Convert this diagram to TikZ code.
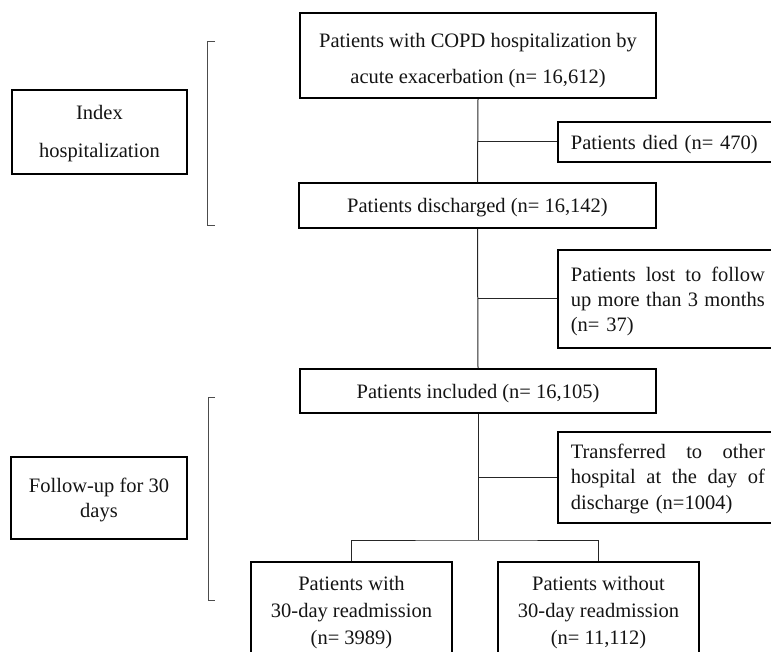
\documentclass[tikz,border=0pt]{standalone}
\usepackage{fontspec}
\setmainfont{Liberation Serif}
\newcommand\mytop[1]{\rule{0pt}{#1pt}}
\newcommand\mybot[1]{\rule[-#1pt]{0pt}{0pt}}
\newcommand\jline[1]{\makebox[194pt][l]{#1}}
\begin{document}
\begin{tikzpicture}[x=1pt,y=-1pt,
  box/.style={draw, line width=1.7pt, inner sep=0pt, align=center, text=black!92,
    font=\fontsize{20.5}{27}\selectfont},
  side/.style={draw, line width=1.7pt, anchor=west, inner xsep=13pt, inner ysep=0pt,
    text width=214pt, align=left, text=black!92, font=\fontsize{20.5}{25.5}\selectfont},
  conn/.style={line width=1pt, draw=black!85},
  brk/.style={line width=1pt, draw=black!70}]
\clip (0,0) rectangle (771,652);
% main column
\node[box, minimum width=356pt, minimum height=85pt, font=\fontsize{20.5}{36}\selectfont] (top) at (478,55.5)
  {\mytop{27}Patients with COPD hospitalization by\\acute exacerbation (n= 16,612)\mybot{6}};
\node[box, minimum width=357pt, minimum height=45pt] (disch) at (477.5,205.5)
  {\mytop{21}Patients discharged (n= 16,142)\mybot{6}};
\node[box, minimum width=356pt, minimum height=44pt] (incl) at (478,391)
  {\mytop{20}Patients included (n= 16,105)\mybot{6}};
\node[box, minimum width=201pt, minimum height=103pt] (withr) at (351.5,613.5)
  {\mytop{17}Patients with\\30-day readmission\\(n= 3989)\mybot{10}};
\node[box, minimum width=201pt, minimum height=103pt] (without) at (598.5,613.5)
  {\mytop{17}Patients without\\30-day readmission\\(n= 11,112)\mybot{10}};
% left labels
\node[box, minimum width=175pt, minimum height=84pt, font=\fontsize{20.5}{38}\selectfont] (index) at (99.5,132)
  {\mytop{20}Index\\hospitalization\mybot{6}};
\node[box, minimum width=176pt, minimum height=82pt, font=\fontsize{20.5}{25}\selectfont] (follow) at (99,498)
  {\mytop{19}Follow-up for 30\\days\mybot{6}};
% side boxes
\node[side, minimum height=40pt] (died) at (557,142)
  {\mytop{22}Patients died (n= 470)\mybot{6}};
\node[side, minimum height=98pt, font=\fontsize{20.5}{25}\selectfont] (lost) at (557,299)
  {\mytop{22}\jline{Patients\hfill lost\hfill to\hfill follow}\\\jline{up\hfill more\hfill than\hfill 3\hfill months}\\(n= 37)\mybot{6}};
\node[side, minimum height=91pt] (trans) at (557,477.5)
  {\mytop{18}\jline{Transferred\hfill to\hfill other}\\\jline{hospital\hfill at\hfill the\hfill day\hfill of}\\discharge (n=1004)\mybot{6}};
% connectors
\draw[conn] (top.south) -- (disch.north);
\draw[conn] (disch.south) -- (incl.north);
\coordinate (split) at (478,540);
\draw[conn] (incl.south) -- (split);
\draw[conn] (withr.north) |- (split) -| (without.north);
\draw[conn] (died.west) -- (died.west -| top.south);
\draw[conn] (lost.west) -- (lost.west -| disch.south);
\draw[conn] (trans.west) -- (trans.west -| incl.south);
% brackets
\draw[brk] (215,42) -- (207,42) -- (207,226) -- (215,226);
\draw[brk] (215,397) -- (208,397) -- (208,600) -- (215,600);
\end{tikzpicture}
\end{document}
